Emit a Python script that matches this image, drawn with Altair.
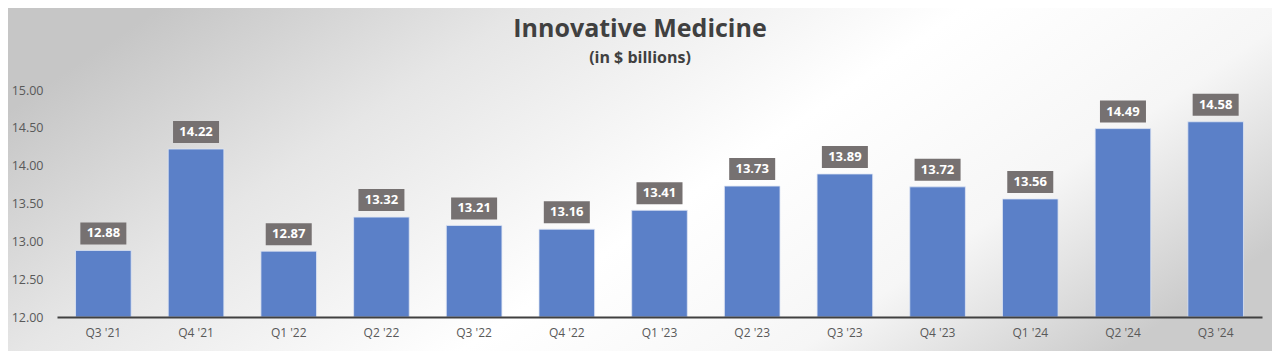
import altair as alt
import pandas as pd

quarters = ["Q3 '21", "Q4 '21", "Q1 '22", "Q2 '22", "Q3 '22", "Q4 '22", "Q1 '23",
            "Q2 '23", "Q3 '23", "Q4 '23", "Q1 '24", "Q2 '24", "Q3 '24"]
values = [12.88, 14.22, 12.87, 13.32, 13.21, 13.16, 13.41,
          13.73, 13.89, 13.72, 13.56, 14.49, 14.58]
y_ticks = [12.0, 12.5, 13.0, 13.5, 14.0, 14.5, 15.0]
title_text = "Innovative Medicine"
subtitle_text = "(in $ billions)"

df = pd.DataFrame({"quarter": quarters, "value": values})

W, H = 1205, 227
PL, PT, PR, PB = 49, 82, 10, 34

font = "Open Sans"
one = alt.Data(values=[{}])

bg = alt.Chart(one).mark_rect(
    fill=alt.Gradient(
        gradient="linear",
        stops=[alt.GradientStop(color="#c6c6c6", offset=0),
               alt.GradientStop(color="#e6e6e6", offset=0.25),
               alt.GradientStop(color="#ffffff", offset=0.55),
               alt.GradientStop(color="#f6f6f6", offset=0.78),
               alt.GradientStop(color="#cbcbcb", offset=1)],
        x1=0, y1=0.3, x2=1, y2=0.7,
    )
).encode(
    x=alt.value(-PL), x2=alt.value(W + PR),
    y=alt.value(-PT), y2=alt.value(H + PB),
)

xscale = alt.Scale(paddingInner=0.4, paddingOuter=0.2)
yscale = alt.Scale(domain=[12, 15], zero=False, nice=False, clamp=False)

xaxis = alt.Axis(labelAngle=0, labelFont=font, labelFontSize=12,
                 labelColor="#595959", ticks=False, domainColor="#404040",
                 domainWidth=2, labelPadding=10, zindex=2, title=None)
yaxis = alt.Axis(values=y_ticks, format=".2f", grid=False, domain=False,
                 ticks=False, labelFont=font, labelFontSize=12.5,
                 labelColor="#595959", labelPadding=14, zindex=2,
                 labelOverlap=False, title=None)

X = alt.X("quarter:N", sort=quarters, scale=xscale, axis=xaxis)
Y = alt.Y("value:Q", scale=yscale, axis=yaxis)

bars = alt.Chart(df).mark_bar(color="#5B80C8", stroke="#dfe6f4", strokeWidth=0.8).encode(
    x=X, y=Y, y2=alt.datum(12),
)

boxes = alt.Chart(df).mark_rect(width=46, height=22, color="#767171", yOffset=-17).encode(
    x=X, y=Y,
)

labels = alt.Chart(df).mark_text(color="white", font=font, fontWeight="bold",
                                 fontSize=13, dy=-17, baseline="middle").encode(
    x=X, y=Y,
    text=alt.Text("value:Q", format=".2f"),
)

title = alt.Chart(one).mark_text(
    text=title_text, font=font, fontSize=25, fontWeight="bold", color="#404040",
    align="center", baseline="alphabetic",
).encode(x=alt.value(583), y=alt.value(-53))

subtitle = alt.Chart(one).mark_text(
    text=subtitle_text, font=font, fontSize=16, fontWeight="bold", color="#404040",
    align="center", baseline="alphabetic",
).encode(x=alt.value(583), y=alt.value(-27))

chart = alt.layer(bg, bars, boxes, labels, title, subtitle).properties(
    width=W, height=H,
    padding={"left": PL, "top": PT, "right": PR, "bottom": PB},
    autosize=alt.AutoSizeParams(type="none"),
    background="#d0d0d0",
).configure_view(stroke=None)

chart.save("out.html", embed_options={"renderer": "svg", "actions": False})
